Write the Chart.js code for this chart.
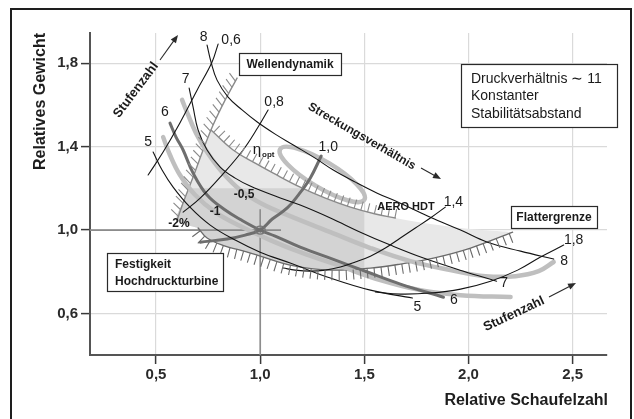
<!DOCTYPE html>
<html lang="de">
<head>
<meta charset="utf-8">
<title>Relatives Gewicht über relativer Schaufelzahl</title>
<script src="https://cdn.jsdelivr.net/npm/chart.js@4.4.1/dist/chart.umd.min.js"></script>
<style>
  html, body { margin: 0; padding: 0; background: #fff; overflow: hidden; }
  #wrap { position: relative; width: 634px; height: 419px; }
  #frame { position: absolute; left: 10px; top: 8px; width: 622px; height: 440px; border: 2px solid #1e1e1e; box-sizing: border-box; }
  #c { position: absolute; left: 0; top: 0; }
</style>
</head>
<body>
<div id="wrap">
  <div id="frame"></div>
  <canvas id="c" width="634" height="419"></canvas>
</div>
<script>
const FONT = "'Liberation Sans', Arial, Helvetica, sans-serif";

// ---- axes -------------------------------------------------------------
const X_RANGE = [0.183, 2.665];
const Y_RANGE = [0.401, 1.945];
const X_TICKS = [0.5, 1.0, 1.5, 2.0, 2.5];
const X_TICK_LABELS = ['0,5', '1,0', '1,5', '2,0', '2,5'];
const Y_TICKS = [0.6, 1.0, 1.4, 1.8];
const Y_TICK_LABELS = ['0,6', '1,0', '1,4', '1,8'];

// ---- design point and limits -------------------------------------------
const DESIGN_POINT = [1.0, 1.0];
const BLADE_LIMIT = 1.5;     // relative Schaufelzahl
const WEIGHT_LIMIT = 1.2;    // relatives Gewicht

// ---- lines of constant stage count (Stufenzahl) -------------------------
const STAGES_8 = [[0.745,1.887],[0.764,1.806],[0.793,1.719],[0.846,1.638],[0.913,1.576],[0.986,1.518],[1.072,1.460],[1.159,1.408],[1.264,1.345],[1.351,1.288],[1.457,1.230],[1.562,1.177],[1.673,1.129],[1.817,1.062],[1.962,1.000],[2.091,0.942],[2.250,0.899],[2.409,0.861]];
const STAGES_7 = [[0.659,1.681],[0.678,1.590],[0.702,1.480],[0.745,1.384],[0.808,1.302],[0.880,1.249],[0.952,1.211],[1.072,1.163],[1.192,1.120],[1.337,1.058],[1.481,0.990],[1.625,0.928],[1.784,0.866],[1.976,0.803],[2.135,0.755]];
const STAGES_6 = [[0.567,1.513],[0.596,1.446],[0.630,1.384],[0.678,1.273],[0.745,1.168],[0.832,1.096],[0.910,1.048],[1.000,1.000],[1.072,0.971],[1.192,0.918],[1.361,0.856],[1.514,0.799],[1.673,0.741],[1.880,0.678]];
const STAGES_5 = [[0.486,1.374],[0.529,1.288],[0.582,1.206],[0.663,1.110],[0.760,1.024],[0.880,0.952],[1.000,0.894],[1.144,0.842],[1.337,0.770],[1.529,0.712],[1.731,0.674]];

// ---- lines of constant aspect ratio (Streckungsverhältnis) --------------
const AR_06 = [[0.798,1.892],[0.769,1.806],[0.697,1.671],[0.601,1.489],[0.534,1.374],[0.462,1.264]];
const AR_08 = [[1.038,1.576],[0.990,1.494],[0.918,1.384],[0.817,1.264],[0.712,1.153],[0.630,1.086]];
const AR_10 = [[1.293,1.355],[1.240,1.249],[1.183,1.168],[1.130,1.106],[1.058,1.053],[1.000,1.000],[0.928,0.976],[0.841,0.957],[0.712,0.942]];
const AR_14 = [[1.889,1.110],[1.817,1.058],[1.745,1.010],[1.673,0.962],[1.601,0.914],[1.529,0.875],[1.457,0.847],[1.385,0.823],[1.313,0.808],[1.240,0.803],[1.168,0.808],[1.111,0.818]];
const AR_18 = [[2.457,0.928],[2.346,0.871],[2.236,0.808],[2.106,0.755],[1.962,0.717],[1.817,0.698],[1.673,0.693],[1.553,0.703]];

// ---- efficiency contours (-0,5 / -1 / -2 %) and optimum ----------------
const ETA_05 = [[0.625,1.624],[0.654,1.552],[0.692,1.465],[0.745,1.374],[0.817,1.278],[0.904,1.192],[1.010,1.125],[1.144,1.067],[1.337,0.990],[1.529,0.914],[1.721,0.851],[1.913,0.808],[2.082,0.779],[2.226,0.779],[2.337,0.803],[2.409,0.847]];
const ETA_1 = [[0.534,1.446],[0.567,1.360],[0.615,1.264],[0.688,1.168],[0.784,1.086],[0.904,1.019],[1.048,0.952],[1.192,0.894],[1.385,0.827],[1.577,0.760],[1.769,0.712],[1.962,0.688],[2.202,0.679]];
const ETA_2 = [[0.889,1.729],[0.832,1.624],[0.774,1.504],[0.726,1.384],[0.678,1.254],[0.635,1.144],[0.601,1.048]];
const ETA_OPT_CENTER = [1.298, 1.267];
const ETA_OPT_RADII = [0.236, 0.063];

// ---- limits of the permissible design space ------------------------------
const LIMIT_UPPER = [[0.764,1.480],[0.870,1.384],[0.976,1.321],[1.063,1.273],[1.192,1.206],[1.313,1.153],[1.433,1.110],[1.553,1.077],[1.649,1.058]];
const LIMIT_UPPER_EXT = [[1.649,1.058],[1.817,1.029],[2.010,1.005],[2.212,0.990]];
const LIMIT_LOWER = [[0.702,1.010],[0.745,0.962],[0.832,0.923],[0.904,0.904],[1.000,0.875],[1.144,0.832],[1.337,0.808],[1.529,0.818],[1.673,0.837],[1.832,0.866],[2.010,0.914],[2.212,0.990]];
const LIMIT_LEFT = [[0.601,1.048],[0.635,1.144],[0.678,1.254],[0.726,1.384],[0.764,1.480]];

// ---- styles --------------------------------------------------------------
const INK = '#141414';
const DARK = '#6e6e6e';
const LIGHT = '#bfbfbf';
const HATCH = '#8a8a8a';

const toXY = arr => arr.map(([x, y]) => ({ x, y }));
function line(id, data, color, width, extra) {
  return Object.assign({
    id, label: id, data: toXY(data), borderColor: color, borderWidth: width,
    pointRadius: 0, pointHoverRadius: 0, showLine: true, tension: 0.4, fill: false,
    borderCapStyle: 'round', borderJoinStyle: 'round'
  }, extra || {});
}

const datasets = [
  line('stages8', STAGES_8, INK, 1.1),
  line('stages7', STAGES_7, INK, 1.1),
  line('stages5', STAGES_5, INK, 1.1),
  line('ar06', AR_06, INK, 1.1),
  line('ar08', AR_08, INK, 1.1),
  line('ar14', AR_14, INK, 1.1),
  line('ar18', AR_18, INK, 1.1),
  line('stages6', STAGES_6, DARK, 3),
  line('ar10', AR_10, DARK, 3),
  line('eta05', ETA_05, LIGHT, 4.5),
  line('eta1', ETA_1, LIGHT, 4.5),
  line('limitUpper', LIMIT_UPPER, HATCH, 1.4, { hatch: { side: 1, len: 9, gap: 7, rot: 0 } }),
  line('limitLower', LIMIT_LOWER, '#6a6a6a', 1.3, { hatch: { side: -1, len: 10, gap: 7, rot: 0 } }),
  line('eta2', ETA_2, HATCH, 1.4, { hatch: { side: -1, len: 10, gap: 7, rot: 25 } })
];

// labels attached to curve ends (offsets in px)
const CURVE_LABELS = [
  { id: 'stages8', text: '8', at: 'first', dx: -3.5, dy: -8 },
  { id: 'stages7', text: '7', at: 'first', dx: -3.5, dy: -8.5 },
  { id: 'stages6', text: '6', at: 'first', dx: -5, dy: -11 },
  { id: 'stages5', text: '5', at: 'first', dx: -5, dy: -10 },
  { id: 'stages8', text: '8', at: 'last', dx: 10.5, dy: 2.5 },
  { id: 'stages7', text: '7', at: 'last', dx: 7.5, dy: 2 },
  { id: 'stages6', text: '6', at: 'last', dx: 10.5, dy: 3 },
  { id: 'stages5', text: '5', at: 'last', dx: 5, dy: 9 },
  { id: 'ar06', text: '0,6', at: 'first', dx: 13, dy: -4 },
  { id: 'ar08', text: '0,8', at: 'first', dx: 6, dy: -8 },
  { id: 'ar10', text: '1,0', at: 'first', dx: 7, dy: -8.5 },
  { id: 'ar14', text: '1,4', at: 'first', dx: 8, dy: -5 },
  { id: 'ar18', text: '1,8', at: 'first', dx: 10, dy: -5 }
];

const BOXES = [
  { lines: ['Wellendynamik'], x: 239, y: 53, w: 102, h: 22, weight: 'bold', size: 12, align: 'center', lh: 0 },
  { lines: ['Druckverhältnis \u223C 11', 'Konstanter', 'Stabilitätsabstand'], x: 461, y: 64, w: 156, h: 63, weight: 'normal', size: 14, align: 'left', lh: 17.5, pad: 10 },
  { lines: ['Flattergrenze'], x: 511, y: 206, w: 86, h: 22, weight: 'bold', size: 12, align: 'center', lh: 0 },
  { lines: ['Festigkeit', 'Hochdruckturbine'], x: 107, y: 253, w: 116, h: 38, weight: 'bold', size: 12, align: 'left', lh: 17, pad: 8 }
];

const FREE_TEXT = [
  { text: 'AERO HDT', x: 406, y: 207, size: 11, weight: 'bold' },
  { text: '-0,5', x: 244, y: 195, size: 12, weight: 'bold' },
  { text: '-1', x: 215, y: 212, size: 12, weight: 'bold' },
  { text: '-2%', x: 179, y: 224, size: 12, weight: 'bold' }
];

const ROTATED_TEXT = [
  { text: 'Stufenzahl', x: 136, y: 90, angle: -53, size: 13, align: 'center', arrow: [160, 60, 178, 35] },
  { text: 'Stufenzahl', x: 514, y: 314, angle: -25, size: 13, align: 'center', arrow: [549, 297, 576, 283] },
  { text: 'Streckungsverhältnis', x: 309, y: 106, angle: 30, size: 12, align: 'left', arrow: [421, 168, 441, 179] }
];

// ---- drawing helpers -----------------------------------------------------
function toPx(chart, p) {
  return [chart.scales.x.getPixelForValue(p[0]), chart.scales.y.getPixelForValue(p[1])];
}

function splineTo(ctx, pts, move) {
  for (let i = 0; i < pts.length; i++) {
    const p = pts[i];
    if (i === 0) { move ? ctx.moveTo(p[0], p[1]) : ctx.lineTo(p[0], p[1]); continue; }
    const p0 = pts[i - 2] || pts[i - 1], p1 = pts[i - 1], p3 = pts[i + 1] || p;
    ctx.bezierCurveTo(
      p1[0] + (p[0] - p0[0]) / 6, p1[1] + (p[1] - p0[1]) / 6,
      p[0] - (p3[0] - p1[0]) / 6, p[1] - (p3[1] - p1[1]) / 6,
      p[0], p[1]);
  }
}

function bandPath(chart, ctx) {
  const top = LIMIT_UPPER.concat(LIMIT_UPPER_EXT.slice(1)).map(p => toPx(chart, p));
  const bottom = LIMIT_LOWER.slice().reverse().map(p => toPx(chart, p));
  const left = [toPx(chart, LIMIT_LOWER[0])].concat(LIMIT_LEFT.map(p => toPx(chart, p)));
  ctx.beginPath();
  splineTo(ctx, top, true);
  splineTo(ctx, bottom, false);
  splineTo(ctx, left, false);
  ctx.closePath();
}

function curveSamples(chart, index) {
  const pts = chart.getDatasetMeta(index).data;
  const out = [];
  for (let i = 0; i < pts.length; i++) {
    const p = pts[i];
    if (i === 0) { out.push([p.x, p.y]); continue; }
    const q = pts[i - 1];
    const c1x = q.cp2x ?? q.x, c1y = q.cp2y ?? q.y, c2x = p.cp1x ?? p.x, c2y = p.cp1y ?? p.y;
    for (let k = 1; k <= 16; k++) {
      const t = k / 16, u = 1 - t;
      out.push([
        u*u*u*q.x + 3*u*u*t*c1x + 3*u*t*t*c2x + t*t*t*p.x,
        u*u*u*q.y + 3*u*u*t*c1y + 3*u*t*t*c2y + t*t*t*p.y
      ]);
    }
  }
  return out;
}

function drawHatch(ctx, samples, h) {
  const r = h.rot * Math.PI / 180, c = Math.cos(r), s = Math.sin(r);
  let start = h.gap / 2;
  ctx.beginPath();
  for (let i = 1; i < samples.length; i++) {
    const [x0, y0] = samples[i - 1], [x1, y1] = samples[i];
    const seg = Math.hypot(x1 - x0, y1 - y0);
    if (!seg) continue;
    const tx = (x1 - x0) / seg, ty = (y1 - y0) / seg;
    const nx = ty * h.side, ny = -tx * h.side;
    const dx = nx * c - ny * s, dy = nx * s + ny * c;
    let d = start;
    while (d <= seg) {
      const bx = x0 + tx * d, by = y0 + ty * d;
      ctx.moveTo(bx, by);
      ctx.lineTo(bx + dx * h.len, by + dy * h.len);
      d += h.gap;
    }
    start = d - seg;
  }
  ctx.stroke();
}

function arrow(ctx, x0, y0, x1, y1) {
  const a = Math.atan2(y1 - y0, x1 - x0), L = 8, W = 3.2;
  ctx.beginPath();
  ctx.moveTo(x0, y0);
  ctx.lineTo(x1 - Math.cos(a) * L * 0.8, y1 - Math.sin(a) * L * 0.8);
  ctx.stroke();
  ctx.beginPath();
  ctx.moveTo(x1, y1);
  ctx.lineTo(x1 - Math.cos(a) * L - Math.sin(a) * W, y1 - Math.sin(a) * L + Math.cos(a) * W);
  ctx.lineTo(x1 - Math.cos(a) * L + Math.sin(a) * W, y1 - Math.sin(a) * L - Math.cos(a) * W);
  ctx.closePath();
  ctx.fill();
}

const designChart = {
  id: 'designChart',
  beforeDatasetsDraw(chart) {
    const { ctx, chartArea: a } = chart;
    const xs = chart.scales.x, ys = chart.scales.y;
    ctx.save();
    // permissible design space
    bandPath(chart, ctx);
    ctx.fillStyle = '#e8e8e8';
    ctx.fill();
    ctx.save();
    ctx.beginPath();
    ctx.rect(a.left, ys.getPixelForValue(WEIGHT_LIMIT), xs.getPixelForValue(BLADE_LIMIT) - a.left, a.bottom - ys.getPixelForValue(WEIGHT_LIMIT));
    ctx.clip();
    bandPath(chart, ctx);
    ctx.fillStyle = '#d3d3d3';
    ctx.fill();
    ctx.restore();

    // reference lines through the design point
    const [dx, dy] = toPx(chart, DESIGN_POINT);
    ctx.strokeStyle = '#8c8c8c';
    ctx.lineWidth = 1.6;
    ctx.beginPath();
    ctx.moveTo(a.left, dy);
    ctx.lineTo(xs.getPixelForValue(DESIGN_POINT[0] + 0.1), dy);
    ctx.moveTo(dx, ys.getPixelForValue(DESIGN_POINT[1] + 0.1));
    ctx.lineTo(dx, a.bottom);
    ctx.stroke();

    // optimum efficiency island
    const [cx, cy] = toPx(chart, ETA_OPT_CENTER);
    const rx = xs.getPixelForValue(ETA_OPT_CENTER[0] + ETA_OPT_RADII[0]) - cx;
    const ry = xs.getPixelForValue(ETA_OPT_CENTER[0] + ETA_OPT_RADII[1]) - cx;
    ctx.strokeStyle = LIGHT;
    ctx.lineWidth = 4.5;
    ctx.beginPath();
    ctx.ellipse(cx, cy, rx, ry, 31 * Math.PI / 180, 0, Math.PI * 2);
    ctx.stroke();
    ctx.restore();
  },
  afterDatasetsDraw(chart) {
    const { ctx } = chart;
    ctx.save();
    // hatched limits
    chart.data.datasets.forEach((ds, i) => {
      if (!ds.hatch) return;
      ctx.strokeStyle = ds.borderColor;
      ctx.lineWidth = 1.1;
      drawHatch(ctx, curveSamples(chart, i), ds.hatch);
    });

    // design point marker
    const [dx, dy] = toPx(chart, DESIGN_POINT);
    ctx.strokeStyle = '#777';
    ctx.lineWidth = 1.4;
    ctx.beginPath();
    ctx.ellipse(dx, dy, 5, 4, 0, 0, Math.PI * 2);
    ctx.stroke();

    ctx.fillStyle = '#1a1a1a';
    ctx.textAlign = 'center';
    ctx.textBaseline = 'middle';

    // curve labels
    ctx.font = `14px ${FONT}`;
    CURVE_LABELS.forEach(l => {
      const idx = chart.data.datasets.findIndex(d => d.id === l.id);
      const pts = chart.getDatasetMeta(idx).data;
      const p = l.at === 'first' ? pts[0] : pts[pts.length - 1];
      ctx.fillText(l.text, p.x + l.dx, p.y + l.dy);
    });

    // eta_opt
    ctx.font = `15px ${FONT}`;
    ctx.fillText('\u03B7', 257, 150);
    ctx.font = `bold 8px ${FONT}`;
    ctx.textAlign = 'left';
    ctx.fillText('opt', 262, 155);
    ctx.textAlign = 'center';

    FREE_TEXT.forEach(t => {
      ctx.font = `${t.weight} ${t.size}px ${FONT}`;
      ctx.fillText(t.text, t.x, t.y);
    });

    // boxed notes
    BOXES.forEach(b => {
      ctx.fillStyle = '#fff';
      ctx.fillRect(b.x, b.y, b.w, b.h);
      ctx.strokeStyle = '#2a2a2a';
      ctx.lineWidth = 1.2;
      ctx.strokeRect(b.x + 0.5, b.y + 0.5, b.w, b.h);
      ctx.fillStyle = '#1a1a1a';
      ctx.font = `${b.weight} ${b.size}px ${FONT}`;
      ctx.textAlign = b.align;
      const first = b.y + (b.h - (b.lines.length - 1) * b.lh) / 2 + 1;
      const tx = b.align === 'center' ? b.x + b.w / 2 : b.x + b.pad;
      b.lines.forEach((s, k) => ctx.fillText(s, tx, first + k * b.lh));
    });

    // rotated annotations with arrows
    ROTATED_TEXT.forEach(r => {
      ctx.save();
      ctx.translate(r.x, r.y);
      ctx.rotate(r.angle * Math.PI / 180);
      ctx.font = `bold ${r.size}px ${FONT}`;
      ctx.textAlign = r.align;
      ctx.textBaseline = 'middle';
      ctx.fillStyle = '#1a1a1a';
      ctx.fillText(r.text, 0, 0);
      ctx.restore();
      ctx.strokeStyle = '#2a2a2a';
      ctx.fillStyle = '#2a2a2a';
      ctx.lineWidth = 1.1;
      arrow(ctx, ...r.arrow);
    });

    // axis titles
    ctx.fillStyle = '#1e1e1e';
    ctx.font = `bold 16px ${FONT}`;
    ctx.textAlign = 'right';
    ctx.textBaseline = 'alphabetic';
    ctx.fillText('Relative Schaufelzahl', 608, 405);
    ctx.save();
    ctx.translate(41, chart.chartArea.top);
    ctx.rotate(-Math.PI / 2);
    ctx.textAlign = 'right';
    ctx.textBaseline = 'middle';
    ctx.fillText('Relatives Gewicht', 0, 0);
    ctx.restore();
    ctx.restore();
  }
};

new Chart(document.getElementById('c'), {
  type: 'scatter',
  data: { datasets },
  options: {
    responsive: false,
    animation: false,
    devicePixelRatio: 1,
    events: [],
    layout: { padding: { left: 0, right: 27, top: 33, bottom: 0 } },
    plugins: { legend: { display: false }, tooltip: { enabled: false } },
    scales: {
      x: {
        type: 'linear', min: X_RANGE[0], max: X_RANGE[1],
        afterBuildTicks: s => { s.ticks = X_TICKS.map(v => ({ value: v })); },
        afterFit: s => { s.height = 64; },
        ticks: { callback: (v, i) => X_TICK_LABELS[i], padding: 2, color: '#2a2a2a', font: { family: FONT, size: 15, weight: 'bold' }, maxRotation: 0 },
        grid: { color: '#dadada', lineWidth: 1.2, drawTicks: true, tickLength: 9, tickColor: '#3a3a3a', tickWidth: 1.5 },
        border: { display: true, color: '#555', width: 2 }
      },
      y: {
        type: 'linear', min: Y_RANGE[0], max: Y_RANGE[1],
        afterBuildTicks: s => { s.ticks = Y_TICKS.map(v => ({ value: v })); },
        afterFit: s => { s.width = 90; },
        ticks: { callback: (v, i) => Y_TICK_LABELS[i], padding: 3, color: '#2a2a2a', font: { family: FONT, size: 15, weight: 'bold' } },
        grid: { color: '#dadada', lineWidth: 1.2, drawTicks: true, tickLength: 9, tickColor: '#3a3a3a', tickWidth: 1.5 },
        border: { display: true, color: '#555', width: 2 }
      }
    }
  },
  plugins: [designChart]
});
</script>
</body>
</html>
